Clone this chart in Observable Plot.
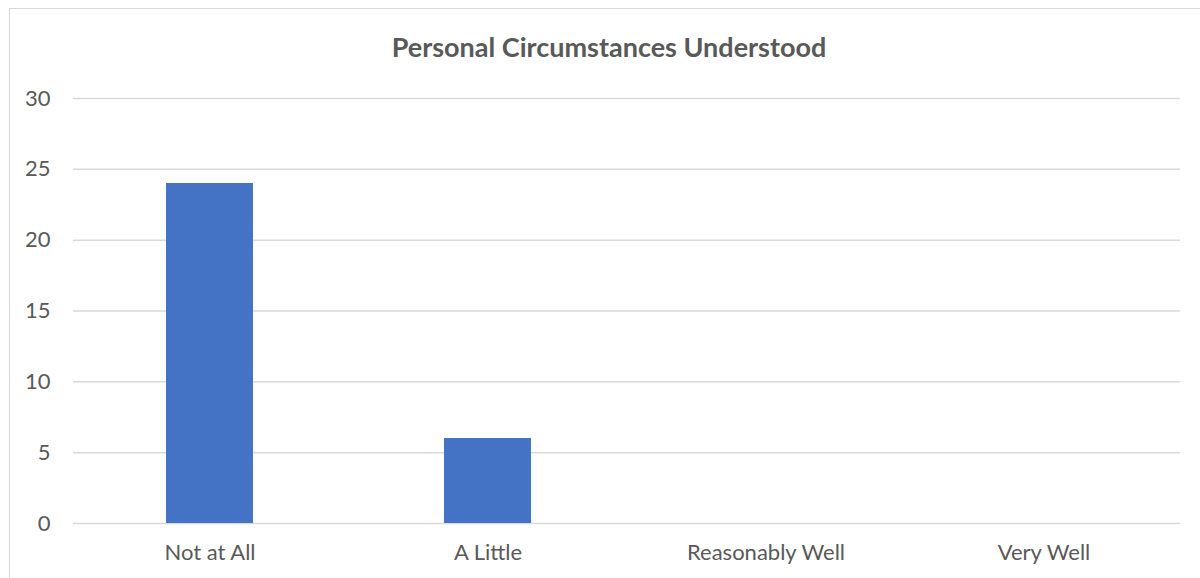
<!DOCTYPE html>
<html>
<head>
<meta charset="utf-8">
<script src="https://cdn.jsdelivr.net/npm/d3@7"></script>
<script src="https://cdn.jsdelivr.net/npm/@observablehq/plot@0.6"></script>
<style>
  html, body { margin: 0; padding: 0; background: #fff; }
  #wrap { position: relative; width: 1200px; height: 578px; overflow: hidden; font-family: Lato, "Open Sans", sans-serif; }
  #frame { position: absolute; left: 9px; top: 8px; width: 1300px; height: 700px; border: 1px solid #d9d9d9; box-sizing: border-box; }
  #title { position: absolute; left: 9px; top: 0; width: 1200px; height: 70px; text-align: center; line-height: 94px; font-size: 27px; font-weight: 700; color: #595959; }
  #chart { position: absolute; left: 0; top: 70px; }
</style>
</head>
<body>
<div id="wrap">
  <div id="frame"></div>
  <div id="title">Personal Circumstances Understood</div>
  <div id="chart"></div>
</div>
<script>
const categories = ["Not at All", "A Little", "Reasonably Well", "Very Well"];
const counts = [24, 6, 0, 0];
const yTicks = [0, 5, 10, 15, 20, 25, 30];

const data = categories.map((c, i) => ({category: c, value: counts[i]}));

const chart = Plot.plot({
  width: 1200,
  height: 508,
  marginTop: 28,
  marginBottom: 55,
  marginLeft: 73,
  marginRight: 20,
  style: {fontFamily: "Lato, 'Open Sans', sans-serif", fontSize: "22px", color: "#595959", background: "transparent"},
  x: {domain: categories, paddingInner: 0.686, paddingOuter: 0.33, label: null},
  y: {domain: [0, 30], label: null},
  marks: [
    Plot.gridY(yTicks, {stroke: "#d9d9d9", strokeOpacity: 1, strokeWidth: 1.5}),
    Plot.barY(data, {x: "category", y: "value", fill: "#4472C4"}),
    Plot.axisY(yTicks, {tickSize: 0, tickPadding: 23, label: null, fill: "#595959"}),
    Plot.axisX({tickSize: 0, tickPadding: 21, label: null, fill: "#595959"})
  ]
});
document.getElementById("chart").appendChild(chart);
</script>
</body>
</html>
